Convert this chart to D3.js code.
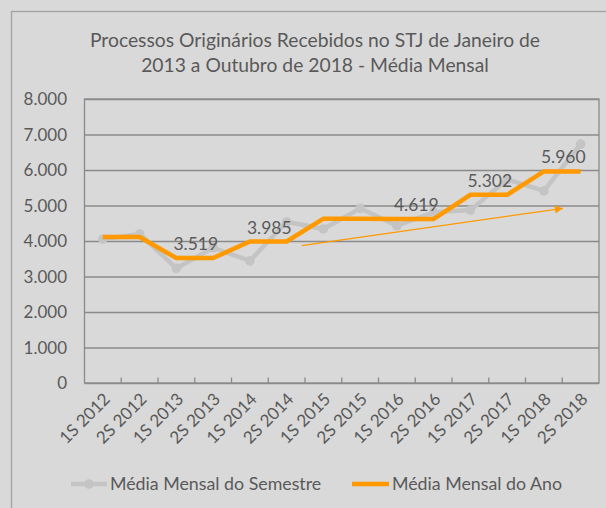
<!DOCTYPE html>
<html><head><meta charset="utf-8">
<script src="https://cdn.jsdelivr.net/npm/d3@7"></script>
<style>
html,body{margin:0;padding:0;background:#d9d9d9;}
svg{display:block;}
text{font-family:Lato,"Open Sans",sans-serif;fill:#595959;}
</style></head>
<body>
<svg id="c" width="606" height="508"></svg>
<script>
const titleLines = ["Processos Originários Recebidos no STJ de Janeiro de", "2013 a Outubro de 2018 - Média Mensal"];
const categories = ["1S 2012","2S 2012","1S 2013","2S 2013","1S 2014","2S 2014","1S 2015","2S 2015","1S 2016","2S 2016","1S 2017","2S 2017","1S 2018","2S 2018"];
const semesterValues = [4050, 4200, 3230, 3810, 3440, 4540, 4340, 4920, 4430, 4810, 4870, 5735, 5410, 6730];
const years = ["2012","2013","2014","2015","2016","2017","2018"];
const yearValues = [4110, 3519, 3985, 4630, 4619, 5302, 5960];
const yearLabelShown = [false, true, true, false, true, true, true];
const yTicks = [0,1000,2000,3000,4000,5000,6000,7000,8000];
const seriesNames = ["Média Mensal do Semestre", "Média Mensal do Ano"];
// trend arrow annotation, in category-index / value units
const trendStart = {i: 5.41, v: 3870};
const trendEnd = {i: 12.52, v: 4920};

const svg = d3.select("#c");
const M = {left: 84.5, right: 599, top: 99, bottom: 383};
const grey = "#c4c4c4", orange = "#ff9900", gridCol = "#8a8a8a";
const fmt = d3.formatLocale({decimal:",", thousands:".", grouping:[3], currency:["",""]}).format(",.0f");

// outer frame
svg.append("rect").attr("x",11.5).attr("y",11.5).attr("width",700).attr("height",600)
  .attr("fill","none").attr("stroke","#a3a3a3").attr("stroke-width",1.3);

// title
svg.append("g").selectAll("text").data(titleLines).join("text")
  .attr("x",315).attr("y",(d,i)=>47+i*24.5).attr("text-anchor","middle")
  .style("font-size","19.3px").text(d=>d);

const x = d3.scalePoint().domain(categories).range([M.left, M.right]).padding(0.5);
const step = x.step();
const xi = i => x(categories[0]) + step*i;
const y = d3.scaleLinear().domain([0,8000]).range([M.bottom, M.top]);

// gridlines
svg.append("g").attr("transform",`translate(${M.left},0)`)
  .call(d3.axisLeft(y).tickValues(yTicks).tickSize(-(M.right-M.left)).tickFormat(""))
  .call(g=>g.select(".domain").remove())
  .call(g=>g.selectAll("line").attr("stroke",gridCol).attr("stroke-width",1.3));
// y labels
svg.append("g").selectAll("text").data(yTicks).join("text")
  .attr("x",67).attr("y",d=>y(d)).attr("dy","0.36em").attr("text-anchor","end")
  .style("font-size","17px").text(d=>fmt(d));

// plot border
svg.append("rect").attr("x",M.left).attr("y",M.top).attr("width",M.right-M.left).attr("height",M.bottom-M.top)
  .attr("fill","none").attr("stroke",gridCol).attr("stroke-width",1.3);

// x axis ticks (between categories)
const bounds = d3.range(1, categories.length).map(i => xi(i-0.5));
svg.append("g").selectAll("line").data(bounds).join("line")
  .attr("x1",d=>d).attr("x2",d=>d).attr("y1",M.bottom).attr("y2",M.bottom-5.5)
  .attr("stroke",gridCol).attr("stroke-width",1.3);
// x labels
svg.append("g").selectAll("text").data(categories).join("text")
  .attr("transform",d=>`translate(${x(d)+4},${M.bottom+13}) rotate(-45)`)
  .attr("text-anchor","end").attr("dy","0.35em")
  .style("font-size","17px").text(d=>d);

// semester series
const line = d3.line().x((d,i)=>x(categories[i])).y(d=>y(d));
svg.append("path").datum(semesterValues).attr("d",line)
  .attr("fill","none").attr("stroke",grey).attr("stroke-width",4.5).attr("stroke-linejoin","round");
svg.append("g").selectAll("circle").data(semesterValues).join("circle")
  .attr("cx",(d,i)=>x(categories[i])).attr("cy",d=>y(d)).attr("r",4.8).attr("fill",grey);

// yearly series (each year covers its two semesters)
const yearPts = [];
yearValues.forEach((v,k)=>{ yearPts.push([2*k, v]); yearPts.push([2*k+1, v]); });
svg.append("path").datum(yearPts)
  .attr("d", d3.line().x(d=>xi(d[0])).y(d=>y(d[1])))
  .attr("fill","none").attr("stroke",orange).attr("stroke-width",4.5).attr("stroke-linejoin","miter");

// trend arrow
const defs = svg.append("defs");
defs.append("marker").attr("id","ah").attr("viewBox","0 0 10 10").attr("refX",10).attr("refY",5)
  .attr("markerWidth",9).attr("markerHeight",8).attr("markerUnits","userSpaceOnUse").attr("orient","auto")
  .append("path").attr("d","M0,0L10,5L0,10Z").attr("fill",orange);
svg.append("line")
  .attr("x1",xi(trendStart.i)).attr("y1",y(trendStart.v))
  .attr("x2",xi(trendEnd.i)).attr("y2",y(trendEnd.v))
  .attr("stroke",orange).attr("stroke-width",1.2).attr("marker-end","url(#ah)");

// year labels
svg.append("g").selectAll("text").data(years.map((yr,k)=>({k, v:yearValues[k]})).filter(d=>yearLabelShown[d.k]))
  .join("text")
  .attr("x",d=>xi(2*d.k+0.5)+1).attr("y",d=>y(d.v)-8)
  .attr("text-anchor","middle").style("font-size","17.5px").text(d=>fmt(d.v));

// legend
const lg = svg.append("g");
lg.append("line").attr("x1",71).attr("x2",107).attr("y1",484).attr("y2",484).attr("stroke",grey).attr("stroke-width",4.5);
lg.append("circle").attr("cx",89).attr("cy",484).attr("r",4.8).attr("fill",grey);
lg.append("text").attr("x",110).attr("y",484).attr("dy","0.36em").style("font-size","17.8px").text(seriesNames[0]);
lg.append("line").attr("x1",352).attr("x2",389).attr("y1",484).attr("y2",484).attr("stroke",orange).attr("stroke-width",4.5);
lg.append("text").attr("x",392).attr("y",484).attr("dy","0.36em").style("font-size","17.8px").text(seriesNames[1]);
</script>
</body></html>
